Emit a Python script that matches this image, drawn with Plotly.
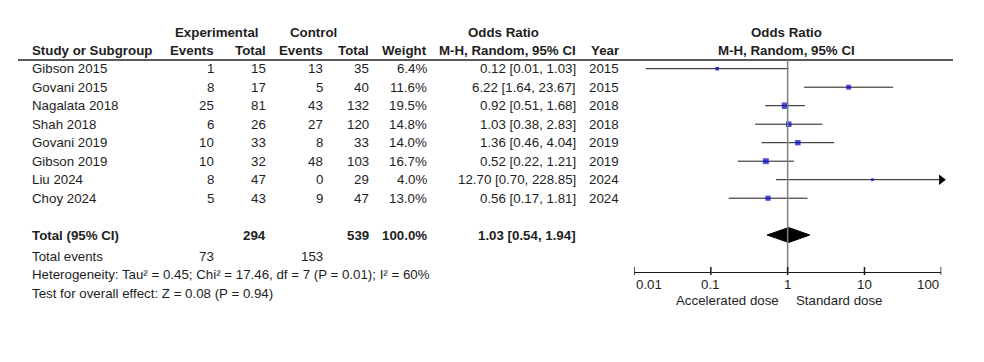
import math
import plotly.graph_objects as go

# ---------------- data ----------------
studies = ["Gibson 2015", "Govani 2015", "Nagalata 2018", "Shah 2018",
           "Govani 2019", "Gibson 2019", "Liu 2024", "Choy 2024"]
exp_events = [1, 8, 25, 6, 10, 10, 8, 5]
exp_total = [15, 17, 81, 26, 33, 32, 47, 43]
ctrl_events = [13, 5, 43, 27, 8, 48, 0, 9]
ctrl_total = [35, 40, 132, 120, 33, 103, 29, 47]
weights = [6.4, 11.6, 19.5, 14.8, 14.0, 16.7, 4.0, 13.0]
or_est = [0.12, 6.22, 0.92, 1.03, 1.36, 0.52, 12.70, 0.56]
or_lo = [0.01, 1.64, 0.51, 0.38, 0.46, 0.22, 0.70, 0.17]
or_hi = [1.03, 23.67, 1.68, 2.83, 4.04, 1.21, 228.85, 1.81]
years = [2015, 2015, 2018, 2018, 2019, 2019, 2024, 2024]

total_exp = 294
total_ctrl = 539
total_weight = 100.0
total_or = 1.03
total_lo = 0.54
total_hi = 1.94
total_exp_events = 73
total_ctrl_events = 153

tick_vals = [0.01, 0.1, 1, 10, 100]
tick_text = ["0.01", "0.1", "1", "10", "100"]
axis_min, axis_max = 0.01, 100

het_text = "Heterogeneity: Tau² = 0.45; Chi² = 17.46, df = 7 (P = 0.01); I² = 60%"
overall_text = "Test for overall effect: Z = 0.08 (P = 0.94)"
left_label = "Accelerated dose"
right_label = "Standard dose"

# --- unrounded CI (Woolf, 0.5 correction) from counts for plotting ---
plot_est, plot_lo, plot_hi = [], [], []
for a, n1, c, n2 in zip(exp_events, exp_total, ctrl_events, ctrl_total):
    b, d = n1 - a, n2 - c
    if min(a, b, c, d) == 0:
        a, b, c, d = a + 0.5, b + 0.5, c + 0.5, d + 0.5
    lor = math.log(a * d / (b * c))
    se = math.sqrt(1 / a + 1 / b + 1 / c + 1 / d)
    plot_est.append(math.exp(lor))
    plot_lo.append(math.exp(lor - 1.96 * se))
    plot_hi.append(math.exp(lor + 1.96 * se))

# ---------------- layout helpers ----------------
W, H = 984, 362
FONT = "Liberation Sans, Arial, sans-serif"
FS = 13.3
TXT = "#1e1e1e"
row0, row_step = 68.7, 18.5
row_y = [row0 + i * row_step for i in range(len(studies))]
y_total, y_events, y_het, y_test = 235, 256, 274.5, 293
y_h1, y_h2, y_rule = 32, 50.5, 60
y_axis = 271.5
y_ticklab = 284
y_dir = 300.5

fig = go.Figure()
ann = []


def txt(x, y, s, anchor="left", bold=False, xref="x"):
    ann.append(dict(x=x, y=y, xref=xref, yref="y", text=("<b>%s</b>" % s) if bold else s,
                    showarrow=False, xanchor=anchor, yanchor="middle",
                    font=dict(family=FONT, size=FS, color=TXT)))


# headers
txt(217, y_h1, "Experimental", "center", True)
txt(313, y_h1, "Control", "center", True)
txt(503, y_h1, "Odds Ratio", "center", True)
txt(786, y_h1, "Odds Ratio", "center", True)
txt(30, y_h2, "Study or Subgroup", "left", True)
txt(216, y_h2, "Events", "right", True)
txt(268, y_h2, "Total", "right", True)
txt(325, y_h2, "Events", "right", True)
txt(371, y_h2, "Total", "right", True)
txt(429, y_h2, "Weight", "right", True)
txt(578, y_h2, "M-H, Random, 95% CI", "right", True)
txt(621, y_h2, "Year", "right", True)
txt(786, y_h2, "M-H, Random, 95% CI", "center", True)

for i, s in enumerate(studies):
    y = row_y[i]
    txt(30, y, s)
    txt(216, y, str(exp_events[i]), "right")
    txt(268, y, str(exp_total[i]), "right")
    txt(325, y, str(ctrl_events[i]), "right")
    txt(371, y, str(ctrl_total[i]), "right")
    txt(429, y, "%.1f%%" % weights[i], "right")
    txt(578, y, "%.2f [%.2f, %.2f]" % (or_est[i], or_lo[i], or_hi[i]), "right")
    txt(621, y, str(years[i]), "right")

txt(30, y_total, "Total (95% CI)", "left", True)
txt(268, y_total, str(total_exp), "right", True)
txt(371, y_total, str(total_ctrl), "right", True)
txt(429, y_total, "%.1f%%" % total_weight, "right", True)
txt(578, y_total, "%.2f [%.2f, %.2f]" % (total_or, total_lo, total_hi), "right", True)
txt(30, y_events, "Total events")
txt(216, y_events, str(total_exp_events), "right")
txt(325, y_events, str(total_ctrl_events), "right")
txt(30, y_het, het_text)
txt(30, y_test, overall_text)

txt(781, y_dir, left_label, "right")
txt(794, y_dir, right_label, "left")

# forest-axis tick labels (ends inset like RevMan)
for k, (v, s) in enumerate(zip(tick_vals, tick_text)):
    anc = "left" if k == 0 else ("right" if k == len(tick_vals) - 1 else "center")
    txt(math.log10(v), y_ticklab, s, anc, xref="x2")

# header rule
shapes = [dict(type="line", xref="x", yref="y", x0=18, x1=953, y0=y_rule, y1=y_rule,
               line=dict(color="#222222", width=1.5))]
# null line at OR = 1
shapes.append(dict(type="line", xref="x2", yref="y", x0=1, x1=1, y0=y_rule, y1=y_axis,
                   line=dict(color="#808080", width=1.5)))
# axis ticks (crossing the axis line)
for v in tick_vals:
    shapes.append(dict(type="line", xref="x2", yref="y", x0=v, x1=v,
                       y0=y_axis - 4.5, y1=y_axis + 3.5,
                       line=dict(color="#1a1a1a", width=1.5)))

# CI lines (clipped to axis range)
for i in range(len(studies)):
    lo = max(plot_lo[i], axis_min)
    hi = min(plot_hi[i], axis_max)
    fig.add_trace(go.Scatter(x=[lo, hi], y=[row_y[i], row_y[i]], xaxis="x2", yaxis="y",
                             mode="lines", line=dict(color="#1a1a1a", width=1),
                             hoverinfo="skip", showlegend=False, cliponaxis=False))
    if plot_hi[i] > axis_max:
        fig.add_trace(go.Scatter(x=[axis_max], y=[row_y[i]], xaxis="x2", yaxis="y",
                                 mode="markers", cliponaxis=False,
                                 marker=dict(symbol="triangle-right", size=9,
                                             color="#000000", line=dict(width=0)),
                                 hoverinfo="skip", showlegend=False))

# squares
fig.add_trace(go.Scatter(x=plot_est, y=row_y, xaxis="x2", yaxis="y", mode="markers",
                         cliponaxis=False,
                         marker=dict(symbol="square", color="#0000CC",
                                     size=[1.45 * math.sqrt(w) for w in weights],
                                     line=dict(width=0)),
                         hoverinfo="skip", showlegend=False))

# diamond
half_h = 7.5
fig.add_trace(go.Scatter(x=[total_lo, total_or, total_hi, total_or, total_lo],
                         y=[y_total, y_total - half_h, y_total, y_total + half_h, y_total],
                         xaxis="x2", yaxis="y", mode="lines", fill="toself",
                         fillcolor="#000000", line=dict(color="#000000", width=1),
                         hoverinfo="skip", showlegend=False))

x2_lo, x2_hi = 634 / W, 941.3 / W
fig.update_layout(
    width=W, height=H, margin=dict(l=0, r=0, t=0, b=0, pad=0, autoexpand=False),
    paper_bgcolor="white", plot_bgcolor="white", hovermode=False,
    xaxis=dict(range=[0, W], visible=False, domain=[0, 1], automargin=False),
    yaxis=dict(range=[H, 0], visible=False, domain=[0, 1], automargin=False),
    xaxis2=dict(type="log", range=[math.log10(axis_min), math.log10(axis_max)],
                domain=[x2_lo, x2_hi], anchor="free", position=(H - y_axis) / H,
                showline=True, linecolor="#1a1a1a", linewidth=1.5,
                ticks="", showticklabels=False, showgrid=False, zeroline=False,
                automargin=False),
    annotations=ann, shapes=shapes, showlegend=False,
)

fig.write_html("out.html", config={"displayModeBar": False, "staticPlot": True},
               post_script="document.body.style.margin='0';")
